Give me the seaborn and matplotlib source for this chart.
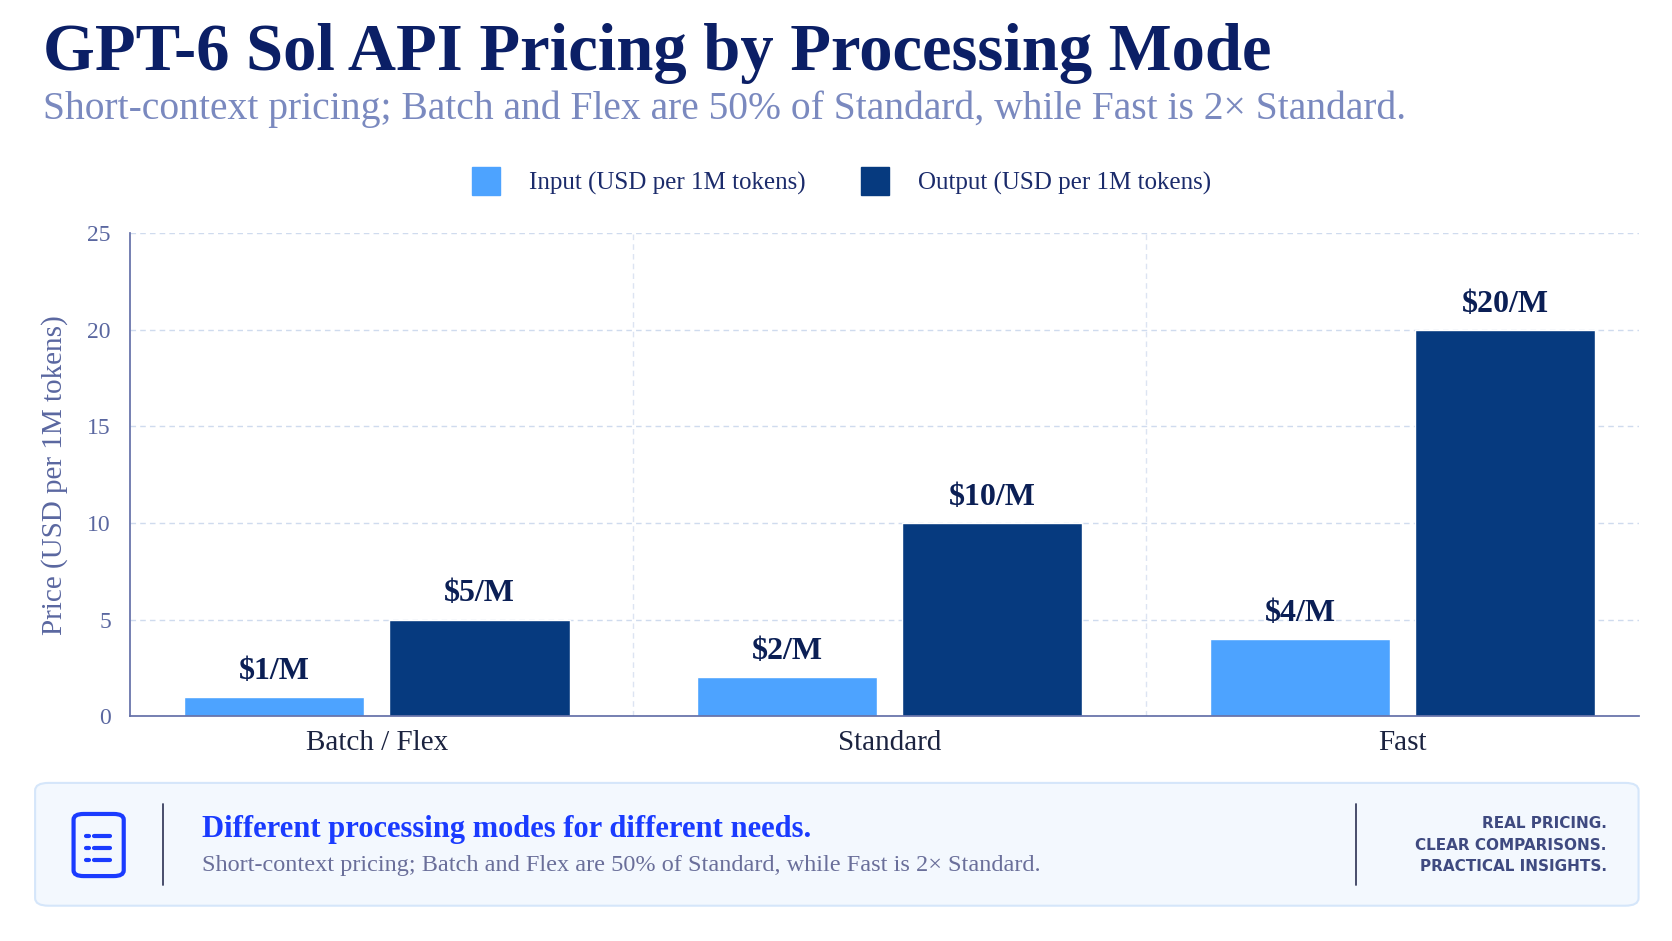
import matplotlib
matplotlib.use("Agg")
import matplotlib.pyplot as plt
from matplotlib.patches import FancyBboxPatch
from matplotlib.lines import Line2D
import seaborn as sns
import pandas as pd

modes = ["Batch / Flex", "Standard", "Fast"]
input_price = [1, 2, 4]
output_price = [5, 10, 20]
series_names = ["Input (USD per 1M tokens)", "Output (USD per 1M tokens)"]
bar_labels_input = ["$1/M", "$2/M", "$4/M"]
bar_labels_output = ["$5/M", "$10/M", "$20/M"]
yticks = [0, 5, 10, 15, 20, 25]

df = pd.DataFrame({
    "mode": modes * 2,
    "price": input_price + output_price,
    "series": [series_names[0]] * 3 + [series_names[1]] * 3,
})

sns.set_theme(style="white")
plt.rcParams["font.family"] = ["Liberation Serif", "DejaVu Serif"]
C_IN, C_OUT = "#4DA3FF", "#063A7F"
TICK = "#5A67A0"

fig = plt.figure(figsize=(16.72, 9.41), dpi=100)
ax = fig.add_axes([0.078, 0.239, 0.902, 0.513])
sns.barplot(data=df, x="mode", y="price", hue="series", palette=[C_IN, C_OUT],
            width=0.8, gap=0.12, ax=ax, legend=False, saturation=1)
ax.set_xlim(-0.48, 2.46)
ax.set_ylim(0, 25)
ax.set_yticks(yticks)
ax.grid(axis="y", color="#CFDBEE", linestyle=(0, (4, 3)), linewidth=1)
for xv in [0.5, 1.5]:
    ax.axvline(xv, color="#DCE4F2", linestyle=(0, (4, 3)), linewidth=1, zorder=0)
ax.set_axisbelow(True)
for s in ["top", "right"]:
    ax.spines[s].set_visible(False)
ax.spines["left"].set_color("#6470A8")
ax.spines["bottom"].set_color("#6470A8")
ax.tick_params(axis="y", colors=TICK, labelsize=17, length=0, pad=14)
ax.tick_params(axis="x", colors="#1B2340", labelsize=21, length=0, pad=10)
ax.set_xlabel("")
ax.set_ylabel("Price (USD per 1M tokens)", fontsize=21, color=TICK, labelpad=14)

labels = [bar_labels_input, bar_labels_output]
for cont, labs in zip(ax.containers, labels):
    ax.bar_label(cont, labels=[l.replace("$", r"\$") for l in labs], padding=8,
                 fontsize=23, fontweight="bold", color="#0B1F55")

handles = [Line2D([0], [0], marker="s", linestyle="", markersize=20, color=c) for c in (C_IN, C_OUT)]
fig.legend(handles, series_names, loc="center", bbox_to_anchor=(0.5, 0.805), ncol=2,
           frameon=False, fontsize=18, labelcolor="#1B2B6B", columnspacing=1.8, handletextpad=0.7)

fig.text(0.026, 0.943, "GPT-6 Sol API Pricing by Processing Mode", fontsize=48,
         fontweight="bold", color="#0B1F66", va="center")
fig.text(0.026, 0.884, "Short-context pricing; Batch and Flex are 50% of Standard, while Fast is 2× Standard.",
         fontsize=28.5, color="#7A89BF", va="center")

fig.patches.append(FancyBboxPatch((0.021, 0.0375), 0.959, 0.1305, boxstyle="round,pad=0,rounding_size=0.008",
                                  transform=fig.transFigure, facecolor="#F3F8FE", edgecolor="#D5E6FA", linewidth=1.5))
fig.patches.append(FancyBboxPatch((0.044, 0.069), 0.03, 0.066, boxstyle="round,pad=0,rounding_size=0.006",
                                  transform=fig.transFigure, facecolor="none", edgecolor="#1A3BFF", linewidth=3))
for yy in [0.112, 0.099, 0.086]:
    fig.lines.append(Line2D([0.0515, 0.0535], [yy, yy], transform=fig.transFigure, color="#1A3BFF", lw=3))
    fig.lines.append(Line2D([0.056, 0.066], [yy, yy], transform=fig.transFigure, color="#1A3BFF", lw=3))
for xx in [0.0975, 0.811]:
    fig.lines.append(Line2D([xx, xx], [0.06, 0.146], transform=fig.transFigure, color="#3A3F60", lw=1.3))
fig.text(0.121, 0.119, "Different processing modes for different needs.", fontsize=22,
         fontweight="bold", color="#1A3BFF", va="center")
fig.text(0.121, 0.080, "Short-context pricing; Batch and Flex are 50% of Standard, while Fast is 2× Standard.",
         fontsize=17.5, color="#6A6F9A", va="center")
for yy, t in zip([0.125, 0.102, 0.079], ["REAL PRICING.", "CLEAR COMPARISONS.", "PRACTICAL INSIGHTS."]):
    fig.text(0.961, yy, t, fontsize=11, fontweight="bold", color="#3F4A80", ha="right", va="center",
             family="DejaVu Sans")

fig.savefig("out.png", dpi=100, facecolor="white")
